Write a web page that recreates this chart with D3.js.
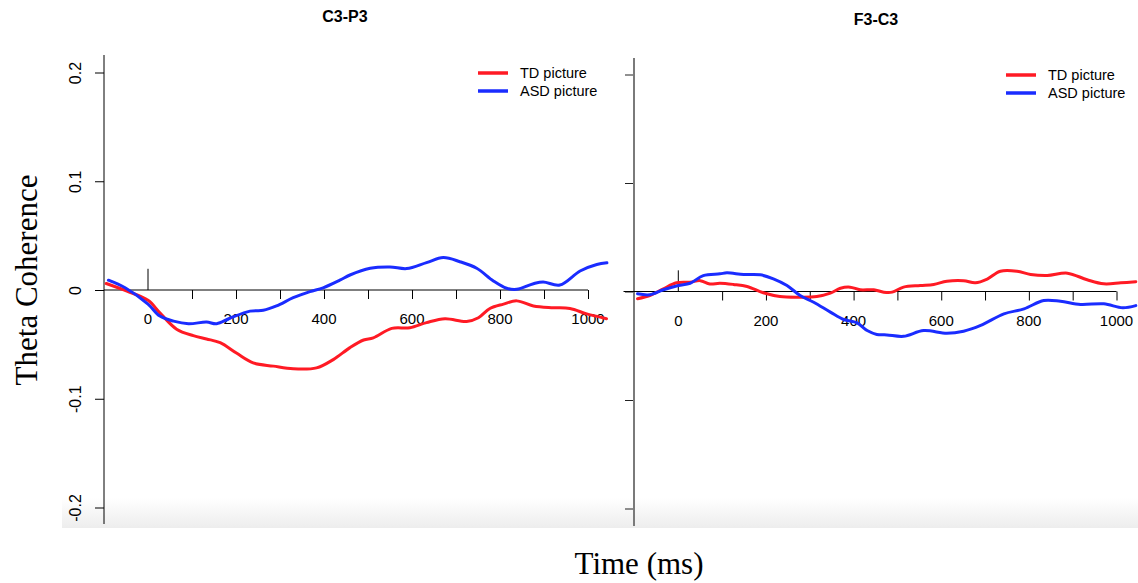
<!DOCTYPE html>
<html><head><meta charset="utf-8">
<script src="https://cdn.jsdelivr.net/npm/d3@7"></script>
<style>body{margin:0;background:#fff}svg{display:block}</style>
</head><body>
<svg id="chart" width="1138" height="583"></svg>
<script>
// ---- data ----
const panelTitles = ["C3-P3", "F3-C3"];
const seriesNames = ["TD picture", "ASD picture"];
const seriesColors = ["#ff1a24", "#1a2cff"];
const xTicks = [0, 100, 200, 300, 400, 500, 600, 700, 800, 900, 1000];
const xTickLabels = [0, 200, 400, 600, 800, 1000];
const yTicks = [-0.2, -0.1, 0, 0.1, 0.2];
const yTickLabels = ["-0.2", "-0.1", "0", "0.1", "0.2"];

const c3p3TD = [[-95,0.006],[-48,-0.001],[0,-0.0095],[27,-0.021],[65,-0.036],[103,-0.042],[133,-0.045],[164,-0.0485],[201,-0.058],[239,-0.067],[285,-0.070],[330,-0.0725],[383,-0.0716],[421,-0.064],[459,-0.053],[490,-0.046],[512,-0.044],[554,-0.0353],[595,-0.0347],[633,-0.030],[675,-0.0264],[724,-0.029],[751,-0.0255],[777,-0.017],[808,-0.013],[838,-0.010],[876,-0.0147],[921,-0.0163],[959,-0.017],[997,-0.022],[1042,-0.0264]];
const c3p3ASD = [[-90,0.009],[-52,0.002],[0,-0.013],[27,-0.024],[58,-0.0286],[92,-0.031],[133,-0.0295],[156,-0.031],[186,-0.026],[232,-0.0194],[262,-0.0187],[292,-0.0147],[330,-0.0071],[368,-0.0015],[398,0.002],[436,0.009],[459,0.0138],[505,0.020],[550,0.0212],[588,0.0197],[633,0.0252],[671,0.0298],[709,0.026],[747,0.020],[785,0.0083],[815,0.0016],[838,0.0006],[876,0.0058],[898,0.0074],[936,0.0046],[982,0.0175],[1020,0.0235],[1043,0.025]];
const f3c3TD = [[-93,-0.0067],[-65,-0.0037],[-34,0.0025],[-4,0.008],[27,0.0086],[50,0.010],[72,0.007],[95,0.0076],[126,0.0065],[157,0.0046],[194,-0.0012],[232,-0.0046],[278,-0.0052],[316,-0.0046],[347,-0.0015],[370,0.003],[392,0.004],[415,0.0016],[446,0.0016],[469,-0.0006],[488,-0.0006],[514,0.004],[552,0.0055],[583,0.0065],[613,0.0095],[651,0.010],[678,0.008],[705,0.0115],[735,0.0187],[773,0.0187],[804,0.0157],[842,0.0147],[888,0.0169],[933,0.0108],[971,0.0071],[1010,0.008],[1044,0.009]];
const f3c3ASD = [[-93,-0.0021],[-65,-0.003],[-34,0.0016],[0,0.0055],[27,0.0076],[57,0.0147],[95,0.0163],[111,0.0172],[149,0.0157],[187,0.0154],[217,0.0117],[248,0.0055],[278,-0.0037],[309,-0.0099],[347,-0.019],[377,-0.0258],[408,-0.029],[431,-0.036],[453,-0.0396],[476,-0.040],[514,-0.0413],[560,-0.036],[613,-0.0385],[651,-0.0366],[690,-0.0313],[743,-0.0206],[789,-0.016],[834,-0.0083],[872,-0.009],[918,-0.012],[971,-0.0113],[1014,-0.015],[1044,-0.013]];

// ---- layout ----
const svg = d3.select("#chart");
const defs = svg.append("defs");
const grad = defs.append("linearGradient").attr("id","shade").attr("x1",0).attr("y1",0).attr("x2",0).attr("y2",1);
grad.append("stop").attr("offset","0%").attr("stop-color","#ffffff");
grad.append("stop").attr("offset","100%").attr("stop-color","#ededed");
svg.append("rect").attr("x",62).attr("y",498).attr("width",1076).attr("height",30).attr("fill","url(#shade)");

const panels = [
  {title: panelTitles[0], series:[c3p3TD, c3p3ASD], axisX:104, xr:[148,588], yr:[507.5,72.5], axisTop:55, axisBot:524, lineStart:-100, titleX:345, titleY:22, legX:478, legY:73, axisColor:"#000", axisW:1, showYLabels:true},
  {title: panelTitles[1], series:[f3c3TD, f3c3ASD], axisX:634, xr:[678.3,1116.5], yr:[508.5,74.5], axisTop:58, axisBot:526, lineStart:-125, titleX:876, titleY:25, legX:1006, legY:75, axisColor:"#7a7a7a", axisW:2, showYLabels:false}
];

panels.forEach(p => {
  const x = d3.scaleLinear().domain([0,1000]).range(p.xr);
  const y = d3.scaleLinear().domain([-0.2,0.2]).range(p.yr);
  const g = svg.append("g");

  // title
  g.append("text").attr("x",p.titleX).attr("y",p.titleY).attr("text-anchor","middle")
    .attr("font-family","Liberation Sans, Arial, sans-serif").attr("font-weight","bold").attr("font-size",16)
    .text(p.title);

  // y axis
  const yAxis = d3.axisLeft(y).tickValues(yTicks).tickSize(9).tickFormat((d,i)=> p.showYLabels ? yTickLabels[i] : "");
  const ya = g.append("g").attr("transform",`translate(${p.axisX},0)`).call(yAxis);
  ya.select(".domain").remove();
  ya.selectAll(".tick line").attr("stroke", p.showYLabels ? "#000" : "#222").attr("stroke-width",1);
  ya.selectAll(".tick text").attr("font-family","Liberation Sans, Arial, sans-serif").attr("font-size",16)
    .attr("fill","#000").attr("text-anchor","middle").attr("x",0)
    .attr("transform","translate(-29,0) rotate(-90)").attr("dy","0.35em");
  g.append("line").attr("x1",p.axisX).attr("x2",p.axisX).attr("y1",p.axisTop).attr("y2",p.axisBot)
    .attr("stroke",p.axisColor).attr("stroke-width",p.axisW);

  // x axis at y=0
  const y0 = y(0);
  g.append("line").attr("x1",x(p.lineStart)).attr("x2",x(1000)).attr("y1",y0).attr("y2",y0).attr("stroke","#000").attr("stroke-width",1);
  const xAxis = d3.axisBottom(x).tickValues(xTicks.filter(d=>d!==0)).tickSize(9).tickFormat("");
  const xa = g.append("g").attr("transform",`translate(0,${y0})`).call(xAxis);
  xa.select(".domain").remove();
  xa.selectAll(".tick line").attr("stroke","#000").attr("stroke-width",1);
  // zero tick pointing up
  g.append("line").attr("x1",x(0)).attr("x2",x(0)).attr("y1",y0).attr("y2",y(0.0195)).attr("stroke","#000").attr("stroke-width",1);
  g.selectAll(".xlab").data(xTickLabels).enter().append("text")
    .attr("x",d=>x(d)).attr("y",y0+34).attr("text-anchor","middle")
    .attr("font-family","Liberation Sans, Arial, sans-serif").attr("font-size",15)
    .text(d=>d);

  // series lines
  const line = d3.line().x(d=>x(d[0])).y(d=>y(d[1])).curve(d3.curveCatmullRom.alpha(0.5));
  p.series.forEach((s,i)=>{
    g.append("path").datum(s).attr("d",line).attr("fill","none")
      .attr("stroke",seriesColors[i]).attr("stroke-width",3).attr("stroke-linejoin","round").attr("stroke-linecap","round");
  });

  // legend
  seriesNames.forEach((n,i)=>{
    const ly = p.legY + i*18;
    g.append("line").attr("x1",p.legX).attr("x2",p.legX+30).attr("y1",ly).attr("y2",ly)
      .attr("stroke",seriesColors[i]).attr("stroke-width",3.5);
    g.append("text").attr("x",p.legX+42).attr("y",ly+5).attr("font-family","Liberation Sans, Arial, sans-serif")
      .attr("font-size",14.5).text(n);
  });
});

// axis titles
svg.append("text").attr("transform","translate(37,280) rotate(-90)").attr("text-anchor","middle")
  .attr("font-family","Liberation Serif, Times New Roman, serif").attr("font-size",31).text("Theta Coherence");
svg.append("text").attr("x",639).attr("y",574).attr("text-anchor","middle")
  .attr("font-family","Liberation Serif, Times New Roman, serif").attr("font-size",31).text("Time (ms)");
</script>
</body></html>
